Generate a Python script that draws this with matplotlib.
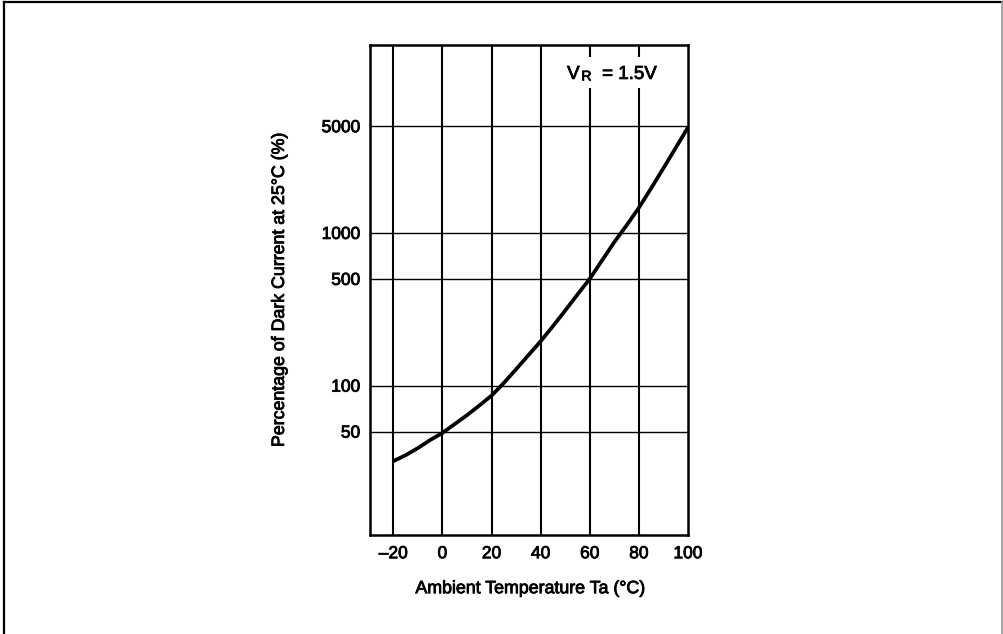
import numpy as np
import matplotlib
matplotlib.use("Agg")
import matplotlib.pyplot as plt
import matplotlib.patheffects as pe
from matplotlib.patches import Rectangle
from matplotlib.lines import Line2D

plt.rcParams['font.family'] = ['Liberation Sans', 'DejaVu Sans']

# data (Ta in degC, dark current in % of 25 degC value)
temp = [-20, -15, -10, -5, 0, 5, 10, 15, 20, 25, 30, 35, 40, 45, 50,
        55, 60, 65, 70, 75, 80, 85, 90, 95, 100]
dark_pct = [32, 35, 39, 44, 49, 56, 64, 74, 86, 104, 128, 158, 195, 245, 310,
            395, 500, 660, 870, 1120, 1460, 1960, 2650, 3600, 4900]

y_ticks = [50, 100, 500, 1000, 5000]
x_ticks = [-20, 0, 20, 40, 60, 80, 100]
x_grid = [-20, 0, 20, 40, 60, 80]

heavy = [pe.withStroke(linewidth=0.6, foreground='black')]

fig = plt.figure(figsize=(10.04, 6.34), dpi=100)
ax = fig.add_axes([0.3685, 0.156, 0.3167, 0.773])

ax.set_yscale('log')
ax.set_xlim(-29.5, 100)
ax.set_ylim(10.5, 17000)

for yv in y_ticks:
    ax.axhline(yv, color='black', lw=1.0, zorder=1)
for xv in x_grid:
    ax.axvline(xv, color='black', lw=1.5, zorder=1)

ax.plot(temp, dark_pct, color='black', lw=2.7, zorder=3, solid_capstyle='butt')

ax.set_yticks(y_ticks)
ax.set_yticklabels([str(v) for v in y_ticks])
ax.yaxis.set_minor_locator(matplotlib.ticker.NullLocator())
ax.set_xticks(x_ticks)
ax.set_xticklabels(['\u201320' if v < 0 else str(v) for v in x_ticks])
ax.tick_params(axis='both', length=0, labelsize=12.5)
ax.tick_params(axis='x', pad=8)
ax.tick_params(axis='y', pad=7)
for lab in ax.get_xticklabels() + ax.get_yticklabels():
    lab.set_path_effects(heavy)

for s in ax.spines.values():
    s.set_linewidth(1.8)

ax.set_xlabel('Ambient Temperature Ta (\u00b0C)', fontsize=12.8, path_effects=heavy)
ax.xaxis.set_label_coords(0.503, -0.092)
ax.set_ylabel('Percentage of Dark Current at 25\u00b0C (%)', fontsize=12.8, path_effects=heavy)
ax.yaxis.set_label_coords(-0.258, 0.5)

# label box for the bias condition
ax.add_patch(Rectangle((0.597, 0.912), 0.331, 0.064, transform=ax.transAxes,
                       facecolor='white', edgecolor='none', zorder=2))
ax.text(0.62, 0.94, 'V', transform=ax.transAxes, fontsize=13.5,
        va='center', ha='left', zorder=4, path_effects=heavy)
ax.text(0.665, 0.936, 'R', transform=ax.transAxes, fontsize=10,
        va='center', ha='left', zorder=4, path_effects=heavy)
ax.text(0.73, 0.94, '= 1.5V', transform=ax.transAxes, fontsize=13.5,
        va='center', ha='left', zorder=4, path_effects=heavy)

# outer frame
W, H = 1004, 634
fig.add_artist(Line2D([4 / W, 4 / W], [0, 1 - 2 / H], color='black', lw=1.6))
fig.add_artist(Line2D([4 / W, 1002 / W], [1 - 2 / H, 1 - 2 / H], color='black', lw=1.6))
fig.add_artist(Line2D([1002 / W, 1002 / W], [0, 1 - 2 / H], color='#999999', lw=1.2))

fig.savefig('out.png', dpi=100)
